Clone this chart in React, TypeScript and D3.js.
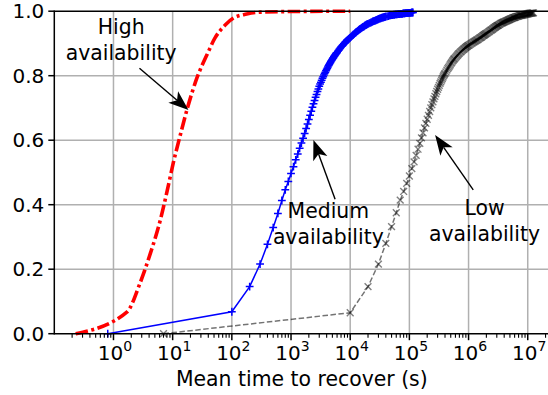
import React from 'react';
import * as d3 from 'd3';

// CDF of mean time to recover as [seconds, cumulative fraction]
const highPoints: [number, number][] = [
  [0.23, 0], [1.7, 0.068], [2.8, 0.156], [4.2, 0.249], [6.2, 0.353], [7.9, 0.435], [10.2, 0.528], [13.5, 0.617],
  [17.8, 0.7], [25.7, 0.793], [38, 0.865], [52, 0.917], [78, 0.958], [107, 0.979], [178, 0.991], [300, 0.997],
  [1000, 0.999], [10000, 1.0],
];

const mediumPoints: [number, number][] = [
  [0.8, 0], [100, 0.068], [200, 0.146], [300, 0.216], [400, 0.277], [500, 0.329], [600, 0.373], [700, 0.413],
  [800, 0.446], [900, 0.472], [1000, 0.497], [1100, 0.518], [1200, 0.539], [1300, 0.557], [1400, 0.575],
  [1500, 0.591], [1600, 0.606], [1700, 0.621], [1800, 0.636], [1900, 0.65], [2000, 0.664], [2100, 0.677],
  [2200, 0.69], [2300, 0.702], [2400, 0.713], [2500, 0.723], [2600, 0.733], [2700, 0.742], [2800, 0.751],
  [2900, 0.759], [3000, 0.767], [3100, 0.774], [3200, 0.78], [3300, 0.786], [3400, 0.792], [3500, 0.797],
  [3600, 0.802], [3700, 0.807], [3800, 0.811], [3900, 0.815], [4000, 0.819], [4100, 0.823], [4200, 0.827],
  [4300, 0.831], [4400, 0.834], [4500, 0.837], [4600, 0.84], [4700, 0.843], [4800, 0.846], [4900, 0.849],
  [5000, 0.851], [5100, 0.854], [5200, 0.856], [5300, 0.859], [5400, 0.861], [5500, 0.863], [5600, 0.865],
  [5700, 0.867], [5800, 0.869], [5900, 0.871], [6000, 0.872], [6200, 0.876], [6400, 0.879], [6600, 0.883],
  [6800, 0.886], [7000, 0.889], [7200, 0.891], [7400, 0.894], [7600, 0.896], [7800, 0.899], [8000, 0.901],
  [8200, 0.903], [8400, 0.905], [8600, 0.907], [8800, 0.909], [9000, 0.911], [9200, 0.912], [9400, 0.914],
  [9600, 0.915], [9800, 0.917], [10000, 0.918], [10400, 0.921], [10800, 0.924], [11200, 0.927], [11600, 0.929],
  [12000, 0.932], [12400, 0.934], [12800, 0.936], [13200, 0.938], [13600, 0.94], [14000, 0.942], [14400, 0.944],
  [14800, 0.945], [15200, 0.947], [15600, 0.948], [16000, 0.95], [16400, 0.951], [16800, 0.952], [17200, 0.953],
  [17600, 0.955], [18000, 0.956], [18400, 0.957], [18800, 0.958], [19200, 0.959], [19600, 0.96], [20000, 0.961],
  [20800, 0.962], [21600, 0.964], [22400, 0.965], [23200, 0.966], [24000, 0.968], [24800, 0.969], [25600, 0.97],
  [26400, 0.971], [27200, 0.972], [28000, 0.973], [28800, 0.974], [29600, 0.975], [30400, 0.976], [31200, 0.977],
  [32000, 0.978], [32800, 0.978], [33600, 0.979], [34400, 0.98], [35200, 0.98], [36000, 0.981], [36800, 0.981],
  [37600, 0.982], [38400, 0.982], [39200, 0.983], [40000, 0.983], [42000, 0.984], [44000, 0.985], [46000, 0.986],
  [48000, 0.987], [50000, 0.988], [52000, 0.988], [54000, 0.989], [56000, 0.989], [58000, 0.99], [60000, 0.99],
  [62000, 0.99], [64000, 0.991], [66000, 0.991], [68000, 0.991], [70000, 0.992], [72000, 0.992], [74000, 0.992],
  [76000, 0.992], [78000, 0.993], [80000, 0.993], [82000, 0.993], [84000, 0.993], [86000, 0.994], [88000, 0.994],
  [90000, 0.994], [92000, 0.994], [94000, 0.994], [96000, 0.995], [98000, 0.995], [100000, 0.995], [103000, 0.995],
  [106000, 0.995], [109000, 0.996], [112000, 0.996], [115000, 0.996],
];

const lowPoints: [number, number][] = [
  [7, 0], [1e4, 0.065], [2e4, 0.146], [3e4, 0.216], [4e4, 0.28], [5e4, 0.332], [6e4, 0.375], [7e4, 0.414],
  [8e4, 0.441], [9e4, 0.466], [1e5, 0.489], [1.1e5, 0.512], [1.2e5, 0.533], [1.3e5, 0.553], [1.4e5, 0.572],
  [1.5e5, 0.59], [1.6e5, 0.607], [1.7e5, 0.623], [1.8e5, 0.638], [1.9e5, 0.652], [2e5, 0.665], [2.1e5, 0.677],
  [2.2e5, 0.689], [2.3e5, 0.7], [2.4e5, 0.71], [2.5e5, 0.719], [2.6e5, 0.728], [2.7e5, 0.736], [2.8e5, 0.744],
  [2.9e5, 0.751], [3.0e5, 0.758], [3.1e5, 0.764], [3.2e5, 0.77], [3.3e5, 0.776], [3.4e5, 0.781], [3.5e5, 0.786],
  [3.6e5, 0.791], [3.7e5, 0.796], [3.8e5, 0.8], [3.9e5, 0.804], [4.0e5, 0.807], [4.15e5, 0.812], [4.3e5, 0.817],
  [4.45e5, 0.822], [4.6e5, 0.826], [4.75e5, 0.83], [4.9e5, 0.834], [5.05e5, 0.838], [5.2e5, 0.841], [5.35e5, 0.845],
  [5.5e5, 0.848], [5.65e5, 0.851], [5.8e5, 0.853], [6.0e5, 0.856], [6.2e5, 0.859], [6.4e5, 0.862], [6.6e5, 0.865],
  [6.8e5, 0.868], [7.0e5, 0.87], [7.25e5, 0.873], [7.5e5, 0.875], [7.75e5, 0.878], [8.0e5, 0.88], [8.25e5, 0.882],
  [8.5e5, 0.884], [8.75e5, 0.886], [9.0e5, 0.888], [9.25e5, 0.89], [9.5e5, 0.891], [9.75e5, 0.893], [1.0e6, 0.894],
  [1.04e6, 0.896], [1.08e6, 0.898], [1.12e6, 0.9], [1.16e6, 0.902], [1.2e6, 0.904], [1.24e6, 0.905], [1.28e6, 0.907],
  [1.32e6, 0.908], [1.36e6, 0.91], [1.4e6, 0.911], [1.45e6, 0.913], [1.5e6, 0.915], [1.55e6, 0.917], [1.6e6, 0.918],
  [1.65e6, 0.92], [1.7e6, 0.922], [1.75e6, 0.924], [1.8e6, 0.925], [1.85e6, 0.927], [1.9e6, 0.928], [1.95e6, 0.93],
  [2.0e6, 0.931], [2.08e6, 0.933], [2.15e6, 0.935], [2.23e6, 0.937], [2.3e6, 0.939], [2.38e6, 0.941], [2.45e6, 0.942],
  [2.53e6, 0.944], [2.6e6, 0.946], [2.68e6, 0.948], [2.75e6, 0.949], [2.83e6, 0.951], [2.9e6, 0.952], [2.98e6, 0.954],
  [3.05e6, 0.955], [3.13e6, 0.956], [3.2e6, 0.957], [3.3e6, 0.959], [3.4e6, 0.96], [3.5e6, 0.962], [3.6e6, 0.963],
  [3.7e6, 0.964], [3.8e6, 0.965], [3.9e6, 0.966], [4.0e6, 0.967], [4.13e6, 0.968], [4.25e6, 0.969], [4.38e6, 0.97],
  [4.5e6, 0.971], [4.63e6, 0.972], [4.75e6, 0.973], [4.88e6, 0.974], [5.0e6, 0.975], [5.15e6, 0.976], [5.3e6, 0.977],
  [5.45e6, 0.978], [5.6e6, 0.979], [5.75e6, 0.98], [5.9e6, 0.98], [6.05e6, 0.981], [6.2e6, 0.982], [6.4e6, 0.983],
  [6.6e6, 0.984], [6.8e6, 0.984], [7.0e6, 0.985], [7.2e6, 0.986], [7.4e6, 0.986], [7.6e6, 0.987], [7.8e6, 0.987],
  [8.0e6, 0.988], [8.2e6, 0.988], [8.45e6, 0.989], [8.7e6, 0.989], [8.95e6, 0.99], [9.2e6, 0.99], [9.45e6, 0.991],
  [9.7e6, 0.991], [9.95e6, 0.992], [1.02e7, 0.992], [1.045e7, 0.993], [1.07e7, 0.993], [1.095e7, 0.993],
  [1.12e7, 0.994], [1.15e7, 0.994], [1.18e7, 0.994], [1.21e7, 0.995], [1.25e7, 0.995],
];

const yTicks = [0, 0.2, 0.4, 0.6, 0.8, 1.0];
const xExponents = [0, 1, 2, 3, 4, 5, 6, 7];

// label block (first baseline), arrow tail and tip, all in data units
const notes = [
  { lines: ['High', 'availability'], tx: 1.35, ty: 0.929, from: [2.75, 0.823], to: [18.5, 0.694] },
  { lines: ['Medium', 'availability'], tx: 4270, ty: 0.359, from: [5560, 0.417], to: [2390, 0.601] },
  { lines: ['Low', 'availability'], tx: 1.86e6, ty: 0.368, from: [1.2e6, 0.446], to: [2.72e5, 0.616] },
];

const W = 548;
const H = 395;
const FONT = 'DejaVu Sans, sans-serif';

const x = d3.scaleLog().domain([0.1, Math.pow(10, 7.366)]).range([54.3, 549.4]);
const y = d3.scaleLinear().domain([0, 1]).range([333.7, 11.2]);

const pts = (p: [number, number][]) => p.map(([t, c]) => [x(t), y(c)] as [number, number]);

function Arrow({ from, to }: { from: number[]; to: number[] }) {
  const x1 = x(from[0]), y1 = y(from[1]);
  const x2 = x(to[0]), y2 = y(to[1]);
  const len = Math.hypot(x2 - x1, y2 - y1);
  const ux = (x2 - x1) / len, uy = (y2 - y1) / len;
  const nx = -uy, ny = ux;
  const L = 20, hw = 7.5, notch = 5;
  const bx = x2 - ux * L, by = y2 - uy * L;
  const mx = x2 - ux * (L - notch), my = y2 - uy * (L - notch);
  const head = `M${x2},${y2}L${bx + nx * hw},${by + ny * hw}L${mx},${my}L${bx - nx * hw},${by - ny * hw}Z`;
  return (
    <g>
      <line x1={x1} y1={y1} x2={mx} y2={my} stroke="#000" strokeWidth={1.4} />
      <path d={head} fill="#000" />
    </g>
  );
}

export default function App() {
  const [x0, x1] = x.range();
  const [y0, y1] = y.range();

  const minor: number[] = [];
  for (let e = -1; e <= 7; e++) for (let m = 2; m <= 9; m++) {
    const v = m * Math.pow(10, e);
    if (x(v) <= W) minor.push(v);
  }

  const straight = d3.line();
  const smooth = d3.line().curve(d3.curveMonotoneX);

  const med = pts(mediumPoints);
  const low = pts(lowPoints);

  return (
    <svg width={W} height={H} style={{ position: 'absolute', left: 0, top: 0, background: '#fff' }} fontFamily={FONT}>
      {/* grid */}
      {xExponents.map((e) => (
        <line key={'gx' + e} x1={x(Math.pow(10, e))} x2={x(Math.pow(10, e))} y1={y0} y2={y1} stroke="#b0b0b0" strokeWidth={1.5} />
      ))}
      {yTicks.slice(1, -1).map((t) => (
        <line key={'gy' + t} x1={x0} x2={x1} y1={y(t)} y2={y(t)} stroke="#b0b0b0" strokeWidth={1.5} />
      ))}

      {/* high availability */}
      <path d={smooth(pts(highPoints)) || ''} fill="none" stroke="#ff0000" strokeWidth={3.6} strokeDasharray="12.5,3.5,3,3.5" />

      {/* medium availability */}
      <path d={straight(med) || ''} fill="none" stroke="#0000ff" strokeWidth={1.5} />
      {med.map(([px, py], i) => (
        <path key={'m' + i} d={`M${px - 3.9},${py}h7.8M${px},${py - 3.9}v7.8`} stroke="#0000ff" strokeWidth={1.5} />
      ))}

      {/* low availability */}
      <path d={straight(low) || ''} fill="none" stroke="#000" strokeOpacity={0.55} strokeWidth={1.5} strokeDasharray="5.5,2.5" />
      {low.map(([px, py], i) => (
        <path key={'l' + i} d={`M${px - 3.4},${py - 3.4}l6.8,6.8M${px - 3.4},${py + 3.4}l6.8,-6.8`} stroke="#000" strokeOpacity={0.5} strokeWidth={1.4} />
      ))}

      {/* spines */}
      <line x1={x0} x2={x0} y1={y0 + 0.7} y2={y1 - 0.7} stroke="#000" strokeWidth={1.5} />
      <line x1={x0} x2={x1} y1={y0} y2={y0} stroke="#000" strokeWidth={1.5} />
      <line x1={x0} x2={x1} y1={y1} y2={y1} stroke="#000" strokeWidth={1.5} />

      {/* y axis */}
      {yTicks.map((t) => (
        <g key={'y' + t}>
          <line x1={x0 - 6} x2={x0} y1={y(t)} y2={y(t)} stroke="#000" strokeWidth={1.5} />
          <text x={x0 - 10} y={y(t)} dy="0.36em" textAnchor="end" fontSize={20}>{t.toFixed(1)}</text>
        </g>
      ))}

      {/* x axis */}
      {minor.map((v, i) => (
        <line key={'mn' + i} x1={x(v)} x2={x(v)} y1={y0} y2={y0 + 4} stroke="#000" strokeWidth={1.1} />
      ))}
      {xExponents.map((e) => {
        const px = x(Math.pow(10, e));
        return (
          <g key={'x' + e}>
            <line x1={px} x2={px} y1={y0} y2={y0 + 6.5} stroke="#000" strokeWidth={1.5} />
            <text x={px + 1.5} y={359.6} textAnchor="middle" fontSize={20}>
              10<tspan dy={-8.5} fontSize={14}>{e}</tspan>
            </text>
          </g>
        );
      })}
      <text x={(x0 + x1) / 2} y={386} textAnchor="middle" fontSize={20.4}>Mean time to recover (s)</text>

      {/* annotations */}
      {notes.map((n, i) => (
        <g key={'n' + i}>
          <Arrow from={n.from} to={n.to} />
          {n.lines.map((s, j) => (
            <text key={j} x={x(n.tx)} y={y(n.ty) + j * 26} textAnchor="middle" fontSize={20.4}>{s}</text>
          ))}
        </g>
      ))}
    </svg>
  );
}
